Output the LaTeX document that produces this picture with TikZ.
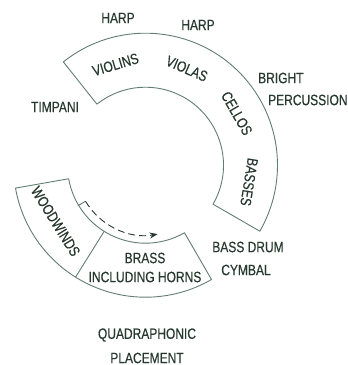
\documentclass[tikz,border=0pt]{standalone}
\usepackage{fontspec}
\setmainfont[FakeStretch=0.8,FakeBold=0.4]{Liberation Sans}
\usetikzlibrary{calc,arrows.meta}
\definecolor{ink}{HTML}{26382F}
\definecolor{lineink}{HTML}{627E73}
\tikzset{
  lbl/.style={text=ink,inner sep=0pt,font=\fontsize{15}{17}\selectfont},
  band/.style={draw=lineink,line width=0.9pt,line join=round},
}
\begin{document}
\begin{tikzpicture}[x=1pt,y=1pt]
\useasboundingbox (0,0) rectangle (348,365);
\coordinate (C) at (145.5,199.8);
% upper band
\draw[band] ($(C)+(128.5:132)$) arc[start angle=128.5,end angle=-30,radius=132]
  -- ($(C)+(-30:78)$) arc[start angle=-30,end angle=128.5,radius=78] -- cycle;
% lower band
\draw[band] ($(C)+(190:132)$) arc[start angle=190,end angle=300,radius=132]
  -- ($(C)+(300:78)$) arc[start angle=300,end angle=190,radius=78] -- cycle;
\draw[band] ($(C)+(238:78)$) -- ($(C)+(238:132)$);
% dashed arrow
\coordinate (a0) at ($(C)+(211:79)$);
\coordinate (a1) at ($(C)+(211:70)$);
\draw[lineink,line width=0.9pt] (a0) -- (a1);
\draw[ink,line width=0.9pt,dash pattern=on 7pt off 4pt,-{Stealth[length=8pt,width=6pt]}]
  (a1) arc[start angle=211,end angle=280,radius=70];
% labels in bands
\node[lbl,rotate=16.6] (violins) at ($(C)+(106.6:105)$) {VIOLINS};
\node[lbl,rotate=-23.2] (violas) at ($(C)+(66.8:105)$) {VIOLAS};
\node[lbl,rotate=-60.4] (cellos) at ($(C)+(29.6:105)$) {CELLOS};
\node[lbl,rotate=-99.2] (basses) at ($(C)+(-9.2:105)$) {BASSES};
\node[lbl,rotate=-58] (woodwinds) at ($(C)+(212:106)$) {WOODWINDS};
\node[lbl] (brass) at (145,107) {BRASS};
\node[lbl] (horns) at (145,88) {INCLUDING HORNS};
% outside labels
\node[lbl] (harp1) at (118,347) {HARP};
\node[lbl] (harp2) at (198,340) {HARP};
\node[lbl,anchor=west] (bright) at (258,287) {BRIGHT};
\node[lbl,anchor=west] (perc) at (268,265) {PERCUSSION};
\node[lbl] (timpani) at (55,258) {TIMPANI};
\node[lbl] (bassdrum) at (248,118) {BASS DRUM};
\node[lbl] (cymbal) at (246,95) {CYMBAL};
\node[lbl] (quad) at (147,30) {QUADRAPHONIC};
\node[lbl] (place) at (147,7) {PLACEMENT};
\end{tikzpicture}
\end{document}
